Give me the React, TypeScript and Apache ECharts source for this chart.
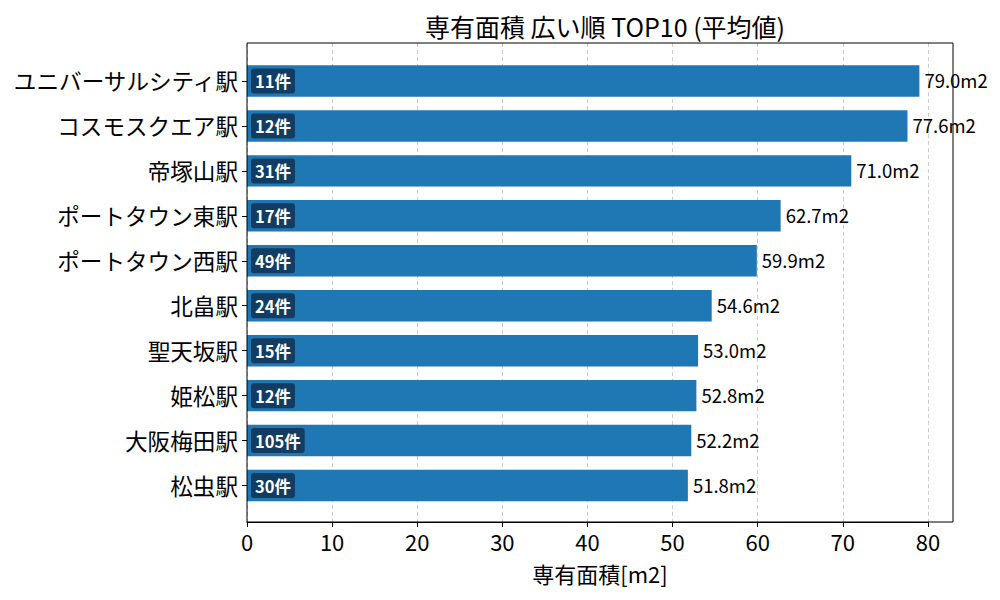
import React, { useEffect, useRef } from "react";
import * as echarts from "echarts";

const stations = [
  "ユニバーサルシティ駅",
  "コスモスクエア駅",
  "帝塚山駅",
  "ポートタウン東駅",
  "ポートタウン西駅",
  "北畠駅",
  "聖天坂駅",
  "姫松駅",
  "大阪梅田駅",
  "松虫駅",
];
const avgArea = [79.0, 77.6, 71.0, 62.7, 59.9, 54.6, 53.0, 52.8, 52.2, 51.8];
const counts = [11, 12, 31, 17, 49, 24, 15, 12, 105, 30];
const xTicks = [0, 10, 20, 30, 40, 50, 60, 70, 80];

const FONT = "'Noto Sans CJK JP', 'Noto Sans', sans-serif";

export default function App() {
  const ref = useRef<HTMLDivElement>(null);
  useEffect(() => {
    if (!ref.current) return;
    const chart = echarts.init(ref.current, undefined, { renderer: "svg" });
    const xMax = 82.95;
    const plotL = 247;
    const plotR = 953;
    const plotT = 43;
    const plotB = 522;
    const tickMax = xTicks[xTicks.length - 1];
    const grid0W = ((plotR - plotL) * tickMax) / xMax;
    const grid0Right = 1000 - (plotL + grid0W);
    // shift axis name so it is centred on the full plot frame
    const nameShift = (plotR - plotL - grid0W);
    chart.setOption({
      animation: false,
      textStyle: { fontFamily: FONT },
      title: {
        text: "専有面積 広い順 TOP10 (平均値)",
        left: 600,
        textAlign: "center",
        top: 8,
        textStyle: { fontFamily: FONT, fontSize: 25, fontWeight: "normal", color: "#000" },
      },
      grid: [
        { left: plotL, right: grid0Right, top: plotT, bottom: 600 - plotB },
        { left: plotL, right: 1000 - plotR, top: 58.5, bottom: 92 },
      ],
      graphic: [
        {
          type: "rect",
          z: 100,
          silent: true,
          shape: { x: plotL, y: plotT, width: plotR - plotL, height: plotB - plotT },
          style: { fill: "none", stroke: "#000", lineWidth: 1 },
        },
      ],
      xAxis: [
        {
          gridIndex: 0,
          type: "value",
          min: 0,
          max: tickMax,
          interval: 10,
          axisLine: { show: true, lineStyle: { color: "#000", width: 1 } },
          axisTick: { show: true, length: 5, lineStyle: { color: "#000" } },
          axisLabel: {
            show: true,
            fontSize: 22,
            color: "#000",
            margin: 8,
            fontFamily: FONT,
          },
          splitLine: { show: true, lineStyle: { color: "#cccccc", type: [4, 3], width: 1 } },
          name: "専有面積[m2]",
          nameLocation: "middle",
          nameGap: 40,
          nameTextStyle: {
            fontSize: 22,
            color: "#000",
            fontFamily: FONT,
            padding: [0, 0, 0, nameShift],
          },
        },
        {
          gridIndex: 1,
          type: "value",
          min: 0,
          max: xMax,
          show: false,
        },
      ],
      yAxis: [
        {
          gridIndex: 0,
          type: "value",
          min: 0,
          max: 1,
          axisLine: { show: false },
          axisTick: { show: false },
          axisLabel: { show: false },
          splitLine: { show: false },
        },
        {
          gridIndex: 1,
          type: "category",
          inverse: true,
          data: stations,
          axisLine: { show: false },
          axisTick: { show: true, alignWithLabel: true, length: 5, lineStyle: { color: "#000" } },
          axisLabel: { fontSize: 22.6, color: "#000", margin: 9, fontFamily: FONT },
          splitLine: { show: false },
        },
      ],
      series: [
        {
          type: "bar",
          xAxisIndex: 1,
          yAxisIndex: 1,
          data: avgArea,
          barWidth: "70%",
          itemStyle: { color: "#1f77b4" },
          label: {
            show: true,
            position: "right",
            distance: 5,
            offset: [0, -1],
            fontSize: 18.5,
            color: "#000",
            fontFamily: FONT,
            formatter: (p: any) => `${Number(p.value).toFixed(1)}m2`,
          },
        },
        {
          type: "bar",
          xAxisIndex: 1,
          yAxisIndex: 1,
          data: avgArea,
          barWidth: "70%",
          barGap: "-100%",
          itemStyle: { color: "transparent" },
          label: {
            show: true,
            position: "insideLeft",
            distance: 4,
            fontSize: 16.5,
            fontWeight: "bold",
            color: "#fff",
            fontFamily: FONT,
            backgroundColor: "rgba(18,52,86,0.88)",
            borderRadius: 3,
            lineHeight: 18,
            padding: [4, 4, 3, 4],
            formatter: (p: any) => `${counts[p.dataIndex]}件`,
          },
        },
      ],
    });
    return () => chart.dispose();
  }, []);
  return (
    <div
      ref={ref}
      style={{ position: "absolute", left: 0, top: 0, width: 1000, height: 600 }}
    />
  );
}
